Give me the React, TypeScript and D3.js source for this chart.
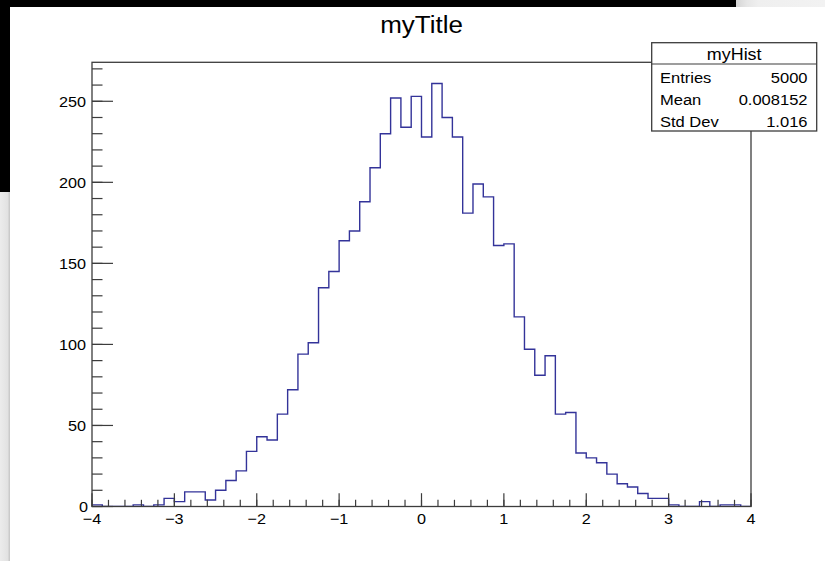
import { FC, useMemo } from "react";
import * as d3 from "d3";

const WIDTH = 825, HEIGHT = 561;
// frame box of the ROOT pad
const FRAME = { left: 92, right: 751, top: 62.3, bottom: 506.5 };
const FONT = "'Liberation Sans', Arial, Helvetica, sans-serif";
const SX = 1.08; // the screenshot is a bit stretched sideways

// histogram: 64 bins from -4 to 4
const X_RANGE = [-4, 4];
const BIN_COUNTS = [
  1, 0, 0, 0, 1, 0, 1, 5, 3, 9, 9, 4, 10, 16, 22, 34,
  43, 41, 57, 72, 94, 101, 135, 145, 164, 170, 188, 209, 230, 252, 234, 253,
  228, 261, 240, 228, 181, 199, 191, 161, 162, 117, 97, 81, 93, 57, 58, 33,
  30, 27, 20, 14, 12, 8, 5, 5, 1, 0, 0, 3, 0, 1, 1, 0,
];
const X_TICKS = [-4, -3, -2, -1, 0, 1, 2, 3, 4];
const Y_TICKS = [0, 50, 100, 150, 200, 250];

const TITLE = "myTitle";
const HIST_NAME = "myHist";
const STAT_LABELS = ["Entries", "Mean", "Std Dev"];
const STAT_VALUES = ["5000", "0.008152", "1.016"];

const LINE_COLOR = "#333399";
const FRAME_COLOR = "#3c3c3c";

type TxtProps = { x: number; y: number; size: number; anchor?: string; sx?: number; children: string };
const Txt: FC<TxtProps> = ({ x, y, size, anchor = "start", sx = SX, children }) => (
  <text
    transform={`translate(${x},${y}) scale(${sx},1)`}
    fontFamily={FONT}
    fontSize={size}
    textAnchor={anchor}
    fill="#000"
  >
    {children}
  </text>
);

const App: FC = () => {
  const nBins = BIN_COUNTS.length;
  const yMax = (d3.max(BIN_COUNTS) || 1) * 1.05;

  const xScale = useMemo(
    () => d3.scaleLinear().domain(X_RANGE).range([FRAME.left, FRAME.right]),
    []
  );
  const yScale = useMemo(
    () => d3.scaleLinear().domain([0, yMax]).range([FRAME.bottom, FRAME.top]),
    [yMax]
  );

  const binW = (X_RANGE[1] - X_RANGE[0]) / nBins;
  const pts: [number, number][] = BIN_COUNTS.map((c, i) => [X_RANGE[0] + i * binW, c]);
  pts.push([X_RANGE[1], BIN_COUNTS[nBins - 1]]);
  const histPath =
    d3
      .line<[number, number]>()
      .x((d) => xScale(d[0]))
      .y((d) => yScale(d[1]))
      .curve(d3.curveStepAfter)(pts) || "";

  const xMinor = d3.range(X_RANGE[0], X_RANGE[1] + 1e-9, 0.2);
  const yMinor = d3.range(0, yMax, 10);

  // stats box
  const box = { x: 651.7, y: 42.7, w: 165, h: 88.3, sep: 64 };
  const rowY = [82.7, 104.8, 126.6];

  return (
    <svg
      width={WIDTH}
      height={HEIGHT}
      style={{ position: "absolute", left: 0, top: 0, background: "#fff" }}
    >
      <defs>
        <linearGradient id="leftStrip" x1="0" x2="1" y1="0" y2="0">
          <stop offset="0" stopColor="#ececec" />
          <stop offset="0.75" stopColor="#e2e2e2" />
          <stop offset="1" stopColor="#c4c4c4" />
        </linearGradient>
        <linearGradient id="topStrip" x1="0" x2="1" y1="0" y2="0">
          <stop offset="0" stopColor="#d4d4d4" />
          <stop offset="0.12" stopColor="#e6e6e6" />
          <stop offset="0.25" stopColor="#efefef" />
          <stop offset="1" stopColor="#f2f2f2" />
        </linearGradient>
        <clipPath id="frameClip">
          <rect
            x={FRAME.left}
            y={FRAME.top}
            width={FRAME.right - FRAME.left}
            height={FRAME.bottom - FRAME.top}
          />
        </clipPath>
      </defs>

      {/* screenshot edges */}
      <rect x={0} y={0} width={WIDTH} height={HEIGHT} fill="#fff" />
      <rect x={0} y={192} width={10} height={HEIGHT - 192} fill="url(#leftStrip)" />
      <rect x={736} y={0} width={WIDTH - 736} height={7} fill="url(#topStrip)" />
      <rect x={0} y={0} width={736} height={7} fill="#000" />
      <rect x={0} y={0} width={10} height={192} fill="#000" />

      <Txt x={(FRAME.left + FRAME.right) / 2} y={33} size={23} anchor="middle" sx={1.13}>
        {TITLE}
      </Txt>

      {/* histogram */}
      <path
        d={histPath}
        fill="none"
        stroke={LINE_COLOR}
        strokeWidth={1.4}
        clipPath="url(#frameClip)"
      />

      {/* frame */}
      <rect
        x={FRAME.left}
        y={FRAME.top}
        width={FRAME.right - FRAME.left}
        height={FRAME.bottom - FRAME.top}
        fill="none"
        stroke={FRAME_COLOR}
        strokeWidth={1.3}
      />

      {/* x axis ticks */}
      {xMinor.map((v, i) => (
        <line
          key={"xm" + i}
          x1={xScale(v)}
          x2={xScale(v)}
          y1={FRAME.bottom}
          y2={FRAME.bottom - 6.7}
          stroke={FRAME_COLOR}
          strokeWidth={1.2}
        />
      ))}
      {X_TICKS.map((v) => (
        <g key={"xt" + v}>
          <line
            x1={xScale(v)}
            x2={xScale(v)}
            y1={FRAME.bottom}
            y2={FRAME.bottom - 13.3}
            stroke={FRAME_COLOR}
            strokeWidth={1.2}
          />
          <Txt x={xScale(v)} y={524} size={15} anchor="middle">
            {v < 0 ? "\u2212" + Math.abs(v) : String(v)}
          </Txt>
        </g>
      ))}

      {/* y axis ticks */}
      {yMinor.map((v, i) => (
        <line
          key={"ym" + i}
          x1={FRAME.left}
          x2={FRAME.left + 10.5}
          y1={yScale(v)}
          y2={yScale(v)}
          stroke={FRAME_COLOR}
          strokeWidth={1.2}
        />
      ))}
      {Y_TICKS.map((v) => (
        <g key={"yt" + v}>
          <line
            x1={FRAME.left}
            x2={FRAME.left + 21}
            y1={yScale(v)}
            y2={yScale(v)}
            stroke={FRAME_COLOR}
            strokeWidth={1.2}
          />
          <Txt x={v === 0 ? 88 : 86} y={yScale(v) + 5.4} size={15} anchor="end">
            {String(v)}
          </Txt>
        </g>
      ))}

      {/* stats box */}
      <rect
        x={box.x}
        y={box.y}
        width={box.w}
        height={box.h}
        fill="#fff"
        stroke={FRAME_COLOR}
        strokeWidth={1.3}
      />
      <line x1={box.x} x2={box.x + box.w} y1={box.sep} y2={box.sep} stroke={FRAME_COLOR} strokeWidth={1.2} />
      <Txt x={box.x + box.w / 2} y={60} size={16} anchor="middle" sx={1.12}>
        {HIST_NAME}
      </Txt>
      {STAT_LABELS.map((lab, i) => (
        <g key={lab}>
          <Txt x={660} y={rowY[i]} size={15.3}>
            {lab}
          </Txt>
          <Txt x={807.5} y={rowY[i]} size={15.3} anchor="end">
            {STAT_VALUES[i]}
          </Txt>
        </g>
      ))}
    </svg>
  );
};

export default App;
